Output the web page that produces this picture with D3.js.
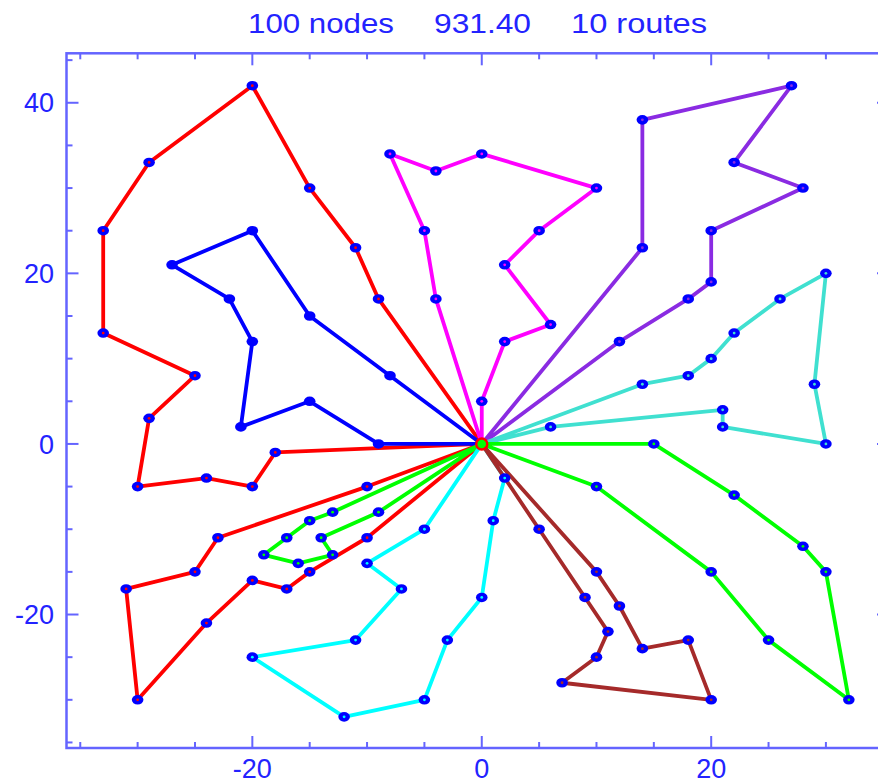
<!DOCTYPE html>
<html>
<head>
<meta charset="utf-8">
<script src="https://cdn.jsdelivr.net/npm/d3@7"></script>
<style>
  body { margin: 0; background: #fff; }
  svg { display: block; }
  text { font-family: "Liberation Sans", Arial, sans-serif; }
</style>
</head>
<body>
<div id="chart"></div>
<script>
// routes, each one starts and ends at the depot (0,0)
const depot = [0, 0];
const routeRedNorth = [[-9,17],[-11,23],[-15,30],[-20,42],[-29,33],[-33,25],[-33,13],[-25,8],[-29,3],[-30,-5],[-24,-4],[-20,-5],[-18,-1]];
const routeRedSouth = [[-10,-5],[-23,-11],[-25,-15],[-31,-17],[-30,-30],[-24,-21],[-20,-16],[-17,-17],[-15,-15],[-10,-11]];
const routeBlue = [[-8,8],[-15,15],[-20,25],[-27,21],[-22,17],[-20,12],[-21,2],[-15,5],[-9,0]];
const routeMagenta = [[0,5],[2,12],[6,14],[2,21],[5,25],[10,30],[0,34],[-4,32],[-8,34],[-5,25],[-4,17]];
const routePurple = [[14,23],[14,38],[27,42],[22,33],[28,30],[20,25],[20,19],[18,17],[12,12]];
const routeTurquoise = [[14,7],[18,8],[20,10],[22,13],[26,17],[30,20],[29,7],[30,0],[21,2],[21,4],[6,2]];
const routeGreenEast = [[15,0],[22,-6],[28,-12],[30,-15],[32,-30],[25,-23],[20,-15],[10,-5]];
const routeGreenWest = [[-13,-8],[-15,-9],[-17,-11],[-19,-13],[-16,-14],[-13,-13],[-14,-11],[-9,-8]];
const routeCyan = [[-5,-10],[-10,-14],[-7,-17],[-11,-23],[-20,-25],[-12,-32],[-5,-30],[-3,-23],[0,-18],[1,-9],[2,-4]];
const routeBrown = [[10,-15],[12,-19],[14,-24],[18,-23],[20,-30],[7,-28],[10,-25],[11,-22],[9,-18],[5,-10]];

const routes = [routeRedNorth, routeRedSouth, routeBlue, routeMagenta, routePurple,
                routeTurquoise, routeGreenEast, routeGreenWest, routeCyan, routeBrown];
const routeColors = ['#ff0000', '#ff0000', '#0000ff', '#ff00ff', '#8a2be2',
                     '#40e0d0', '#00ff00', '#00ff00', '#00ffff', '#a52a2a'];

const titleParts = ['100 nodes', '931.40', '10 routes'];
const majorTicks = [-20, 0, 20, 40];
const minorTicks = [-35, -30, -25, -20, -15, -10, -5, 0, 5, 10, 15, 20, 25, 30, 35, 40, 45];

const width = 878, height = 783;
const axisColor = '#6464ff';
const textColor = '#2323ff';

const x = d3.scaleLinear().domain([-36.2, 35.5]).range([66.5, 889]);
const y = d3.scaleLinear().domain([-35.65, 45.8]).range([748, 53.3]);

const svg = d3.select('#chart').append('svg')
    .attr('width', width)
    .attr('height', height);

// title, three pieces spread like the original
const titleX = [248, 434, 571];
const titleW = [146, 97, 136];
svg.selectAll('text.title')
    .data(titleParts)
    .enter()
    .append('text')
    .attr('class', 'title')
    .attr('x', (d, i) => titleX[i])
    .attr('y', 33)
    .attr('font-size', 27)
    .attr('textLength', (d, i) => titleW[i])
    .attr('lengthAdjust', 'spacingAndGlyphs')
    .attr('fill', textColor)
    .text(d => d);

// frame
const [x0, x1] = x.range();
const [y0, y1] = y.range();
svg.append('rect')
    .attr('x', x0).attr('y', y1)
    .attr('width', x1 - x0).attr('height', y0 - y1)
    .attr('fill', 'none')
    .attr('stroke', axisColor)
    .attr('stroke-width', 2.5);

// ticks, minor every 5, longer every 20
const tickLen = v => (v % 20 === 0 ? 12 : 6);
const ticks = svg.append('g').attr('stroke', axisColor).attr('stroke-width', 2);
const xt = minorTicks.filter(v => v >= -36 && v <= 35);
const yt = minorTicks.filter(v => v >= -35 && v <= 45);
ticks.selectAll('line.xb').data(xt).enter().append('line')
    .attr('x1', d => x(d)).attr('x2', d => x(d))
    .attr('y1', y0).attr('y2', d => y0 - tickLen(d));
ticks.selectAll('line.xt').data(xt).enter().append('line')
    .attr('x1', d => x(d)).attr('x2', d => x(d))
    .attr('y1', y1).attr('y2', d => y1 + tickLen(d));
ticks.selectAll('line.yl').data(yt).enter().append('line')
    .attr('y1', d => y(d)).attr('y2', d => y(d))
    .attr('x1', x0).attr('x2', d => x0 + tickLen(d));
ticks.selectAll('line.yr').data(yt).enter().append('line')
    .attr('y1', d => y(d)).attr('y2', d => y(d))
    .attr('x1', x1).attr('x2', d => x1 - tickLen(d));

// tick labels
svg.selectAll('text.xl')
    .data(majorTicks.filter(v => v <= 20))
    .enter().append('text')
    .attr('x', d => x(d))
    .attr('y', 778)
    .attr('text-anchor', 'middle')
    .attr('font-size', 27)
    .attr('fill', textColor)
    .text(d => d);

svg.selectAll('text.yl')
    .data(majorTicks)
    .enter().append('text')
    .attr('x', 54)
    .attr('y', d => y(d))
    .attr('dy', '0.36em')
    .attr('text-anchor', 'end')
    .attr('font-size', 27)
    .attr('fill', textColor)
    .text(d => d);

// route lines
const line = d3.line()
    .x(d => x(d[0]))
    .y(d => y(d[1]));

const plot = svg.append('g');
routes.forEach((r, i) => {
    plot.append('path')
        .datum([depot, ...r, depot])
        .attr('d', line)
        .attr('fill', 'none')
        .attr('stroke', routeColors[i])
        .attr('stroke-width', 3.8)
        .attr('stroke-linejoin', 'round');
});

// customer markers
routes.forEach((r, i) => {
    const g = plot.append('g');
    g.selectAll('ellipse')
        .data(r)
        .enter().append('ellipse')
        .attr('cx', d => x(d[0]))
        .attr('cy', d => y(d[1]))
        .attr('rx', 5.8)
        .attr('ry', 4.8)
        .attr('fill', '#0000ff');
    g.selectAll('circle')
        .data(r)
        .enter().append('circle')
        .attr('cx', d => x(d[0]))
        .attr('cy', d => y(d[1]))
        .attr('r', 1.4)
        .attr('fill', routeColors[i]);
});

// depot
plot.append('circle')
    .attr('cx', x(depot[0]))
    .attr('cy', y(depot[1]))
    .attr('r', 5.5)
    .attr('fill', '#00ff00')
    .attr('stroke', '#ff0000')
    .attr('stroke-width', 2.5);
</script>
</body>
</html>
